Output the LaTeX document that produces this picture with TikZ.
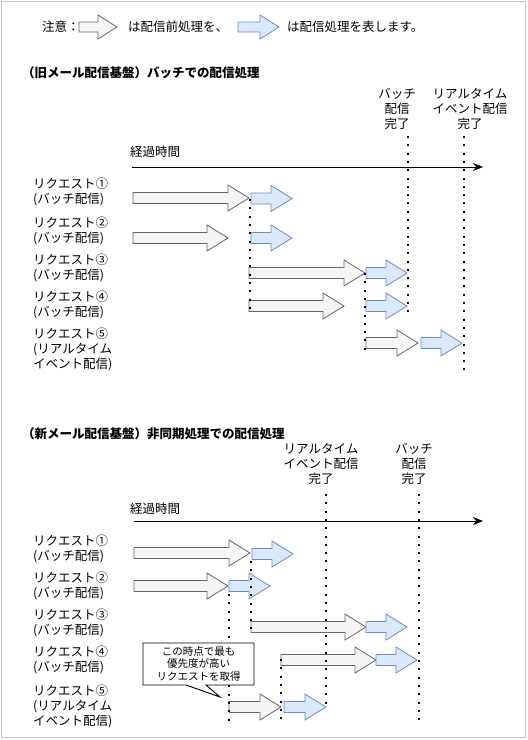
\documentclass[tikz,border=0pt]{standalone}
\usepackage{fontspec}
\setmainfont{Noto Sans CJK JP}
\usetikzlibrary{arrows.meta}
\definecolor{preFill}{HTML}{F5F5F5}
\definecolor{preLine}{HTML}{666666}
\definecolor{mainFill}{HTML}{DAE8FC}
\definecolor{mainLine}{HTML}{6C8EBF}
\definecolor{frameGray}{HTML}{C4C4C4}
% #1 style, #2 name, #3 x1, #4 x2, #5 y, #6 head length, #7 head half height, #8 shaft half height
\newcommand\procarrow[8]{%
  \draw[#1] (#3,{#5-#8}) -- ({#4-#6},{#5-#8}) -- ({#4-#6},{#5-#7}) -- (#4,#5)
    -- ({#4-#6},{#5+#7}) -- ({#4-#6},{#5+#8}) -- (#3,{#5+#8}) -- cycle;
  \coordinate (#2) at (#3,#5);}
\tikzset{
  prebox/.style={fill=preFill,draw=preLine,line width=0.8pt,line join=miter},
  mainbox/.style={fill=mainFill,draw=mainLine,line width=0.8pt,line join=miter},
  txt/.style={inner sep=0pt,font=\fontsize{12.5}{15}\selectfont},
  lbl/.style={txt,anchor=west,align=left},
  mile/.style={txt,align=center},
  ttl/.style={inner sep=0pt,anchor=west,font=\fontsize{12.5}{15}\selectfont\bfseries},
  dotline/.style={line width=2pt,dash pattern=on 2pt off 6.3pt},
  axis/.style={line width=0.9pt,-{Stealth[length=10pt,width=8pt]}},
}
\begin{document}
\begin{tikzpicture}[x=1pt,y=-1pt]
\useasboundingbox (0,0) rectangle (528,740);
\draw[frameGray,line width=1pt] (1.5,1.5) rectangle (525,737.5);

% legend
\node[txt,anchor=west] (note) at (42,27) {注意：};
\procarrow{prebox}{legpre}{79}{117}{27}{19}{12}{5}
\node[txt,anchor=west] (legpretxt) at (128,27) {は配信前処理を、};
\procarrow{mainbox}{legmain}{238}{279}{27}{19}{12}{5}
\node[txt,anchor=west] (legmaintxt) at (287,27) {は配信処理を表します。};

% ===== old system =====
\node[ttl] (oldtitle) at (22,73) {（旧メール配信基盤）バッチでの配信処理};
\node[mile] (oldbatch) at (397,108.5) {バッチ\\配信\\完了};
\node[mile] (oldrt) at (470,108.5) {リアルタイム\\イベント配信\\完了};
\node[lbl] (oldtime) at (130,152) {経過時間};
\coordinate (oldaxS) at (132,167);
\coordinate (oldaxE) at (483,167);
\draw[axis] (oldaxS) -- (oldaxE);

\node[lbl] (oldr1) at (33,192) {リクエスト①\\(バッチ配信)};
\node[lbl] (oldr2) at (33,230.5) {リクエスト②\\(バッチ配信)};
\node[lbl] (oldr3) at (33,267.5) {リクエスト③\\(バッチ配信)};
\node[lbl] (oldr4) at (33,304.5) {リクエスト④\\(バッチ配信)};
\node[lbl] (oldr5) at (33,349.5) {リクエスト⑤\\(リアルタイム\\イベント配信)};

\procarrow{prebox}{op1}{133}{249}{198}{21}{13}{5.5}
\procarrow{mainbox}{om1}{251}{292}{198.5}{21}{13}{5.5}
\procarrow{prebox}{op2}{133}{228}{238}{21}{13}{5.5}
\procarrow{mainbox}{om2}{251}{292}{238}{21}{13}{5.5}
\procarrow{prebox}{op3}{249}{365}{273}{21}{13}{5.5}
\procarrow{mainbox}{om3}{366}{407}{273}{21}{13}{5.5}
\procarrow{prebox}{op4}{249}{344}{306}{21}{13}{5.5}
\procarrow{mainbox}{om4}{366}{407}{306}{21}{13}{5.5}
\procarrow{prebox}{op5}{366}{418}{343}{21}{13}{5.5}
\procarrow{mainbox}{om5}{421}{462}{343}{21}{13}{5.5}

\draw[dotline] (250,199) -- (250,313);
\draw[dotline] (365,273) -- (365,351);
\draw[dotline] (408,136) -- (408,315);
\draw[dotline] (464,136) -- (464,371);

% ===== new system =====
\node[ttl] (newtitle) at (22,434) {（新メール配信基盤）非同期処理での配信処理};
\node[mile] (newrt) at (321,464) {リアルタイム\\イベント配信\\完了};
\node[mile] (newbatch) at (414,464) {バッチ\\配信\\完了};
\node[lbl] (newtime) at (130,509) {経過時間};
\coordinate (newaxS) at (134,521);
\coordinate (newaxE) at (483,521);
\draw[axis] (newaxS) -- (newaxE);

\node[lbl] (newr1) at (33,549) {リクエスト①\\(バッチ配信)};
\node[lbl] (newr2) at (33,585.5) {リクエスト②\\(バッチ配信)};
\node[lbl] (newr3) at (33,622.5) {リクエスト③\\(バッチ配信)};
\node[lbl] (newr4) at (33,659.5) {リクエスト④\\(バッチ配信)};
\node[lbl] (newr5) at (33,706) {リクエスト⑤\\(リアルタイム\\イベント配信)};

\procarrow{prebox}{np1}{134}{250}{553}{21}{13}{5.5}
\procarrow{mainbox}{nm1}{252}{293}{554}{21}{13}{5.5}
\procarrow{prebox}{np2}{134}{228}{586}{21}{13}{5.5}
\procarrow{mainbox}{nm2}{229}{270}{586}{21}{13}{5.5}
\procarrow{prebox}{np3}{251}{366}{627}{21}{13}{5.5}
\procarrow{mainbox}{nm3}{366}{407}{627}{21}{13}{5.5}
\procarrow{prebox}{np4}{281}{376}{660}{21}{13}{5.5}
\procarrow{mainbox}{nm4}{376}{417}{660}{21}{13}{5.5}
\procarrow{prebox}{np5}{229}{281}{707}{21}{13}{5.5}
\procarrow{mainbox}{nm5}{284}{326}{707}{21}{13}{5.5}

\draw[dotline] (251,561) -- (251,631);
\draw[dotline] (228.5,594) -- (228.5,724);
\draw[dotline] (281,659) -- (281,724);
\draw[dotline] (326,494) -- (326,708);
\draw[dotline] (419,494) -- (419,724);

% callout
\draw[fill=white,draw=black,line width=0.9pt,line join=miter]
  (143,643) -- (254,643) -- (254,685) -- (206,685) -- (220,697) -- (186,685) -- (143,685) -- cycle;
\node[txt,align=center,font=\fontsize{10.5}{12.8}\selectfont] (callout) at (198.5,664) {この時点で最も\\優先度が高い\\リクエストを取得};
\end{tikzpicture}
\end{document}
